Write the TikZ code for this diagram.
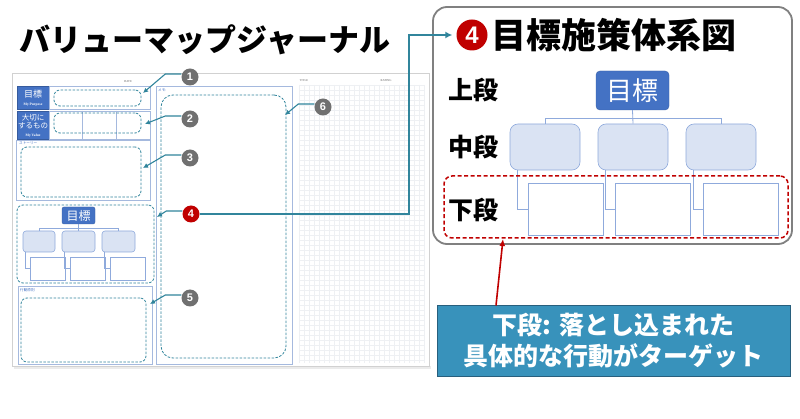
\documentclass[tikz,border=0pt]{standalone}
\usepackage{fontspec}
\setmainfont{Liberation Serif}
\setsansfont{Liberation Sans}
\newfontfamily\jp{Noto Sans CJK JP}
\usetikzlibrary{arrows.meta}
\definecolor{tealc}{RGB}{49,133,156}
\definecolor{boxblue}{RGB}{68,114,196}
\definecolor{midfill}{RGB}{218,227,243}
\definecolor{midline}{RGB}{143,170,220}
\definecolor{pageln}{RGB}{165,185,222}
\definecolor{darkred}{RGB}{192,0,0}
\definecolor{notegray}{RGB}{112,112,112}
\definecolor{infobox}{RGB}{56,146,187}
\definecolor{infoborder}{RGB}{40,95,125}
\definecolor{panelgray}{RGB}{128,128,128}
\definecolor{gridc}{RGB}{238,240,243}
\tikzset{
  sz/.style 2 args={minimum width=#1pt, minimum height=#2pt, inner sep=0pt},
  cell/.style={draw=pageln, line width=0.6pt, fill=white},
  dashbox/.style={draw=tealc, dash pattern=on 2.5pt off 1.5pt, rounded corners=6pt, line width=0.8pt},
  labelbox/.style={fill=boxblue, draw=boxblue!80!black, line width=0.3pt},
  tiny/.style={font=\fontsize{3}{3}\selectfont, text=black!60, inner sep=0pt},
  smalllabel/.style={font=\jp\fontsize{3.6}{3.6}\selectfont, text=boxblue, inner sep=0pt},
  callnum/.style={circle, fill=notegray, text=white, font=\sffamily\bfseries\fontsize{11}{11}\selectfont, minimum size=17pt, inner sep=0pt},
  callarrow/.style={draw=tealc, line width=1.1pt, -{Latex[length=5pt,width=5pt]}},
  goalbox/.style={fill=boxblue, draw=boxblue!85!black, line width=0.4pt, rounded corners=2pt, text=white},
  midbox/.style={fill=midfill, draw=midline, line width=0.6pt, rounded corners=#1},
  lowbox/.style={fill=white, draw=midline, line width=0.6pt},
  treeline/.style={draw=midline, line width=0.8pt},
  stagelabel/.style={font=\jp\bfseries\fontsize{25}{25}\selectfont, inner sep=0pt},
}
\begin{document}
\begin{tikzpicture}[x=1pt,y=-1pt]
\useasboundingbox (0,0) rectangle (800,419);
\fill[white] (0,0) rectangle (800,419);

% title
\node[font=\jp\bfseries\fontsize{31}{31}\selectfont, inner sep=0pt] (title) at (205,40) {バリューマップジャーナル};

% journal page
\fill[black!8] (14,366) rectangle (431,369);
\draw[draw=black!18, fill=white, line width=0.8pt] (12,73) rectangle (429,366);
\node[tiny] (date) at (128,82) {DATE};
\node[tiny] (ttl) at (304,81) {TITLE};
\node[tiny] (rating) at (386,81) {RATING};

% grid
\foreach \x in {299,304,...,424} \draw[gridc, line width=0.35pt] (\x,85) -- (\x,363);
\foreach \y in {85,90,...,363} \draw[gridc, line width=0.35pt] (299,\y) -- (424,\y);

% purpose row
\node[labelbox, sz={32}{23}] (purp) at (33,97.5) {};
\node[text=white, font=\jp\fontsize{9}{9}\selectfont, inner sep=0pt] (purpt) at (33,94) {目標};
\node[text=white, font=\bfseries\fontsize{3.6}{3.6}\selectfont, inner sep=0pt] (purpe) at (33,105) {My Purpose};
\node[cell, sz={101}{23}] (cell1) at (99.5,97.5) {};
\node[dashbox, sz={87}{16}] (d1) at (97.5,98) {};

% value row
\node[labelbox, sz={32}{28}] (val) at (33,125) {};
\node[text=white, font=\jp\fontsize{7.5}{8}\selectfont, align=center, inner sep=0pt] (valt) at (33,122) {大切に\\するもの};
\node[text=white, font=\bfseries\fontsize{3.6}{3.6}\selectfont, inner sep=0pt] (vale) at (33,136) {My Value};
\node[cell, sz={101}{28}] (cell2) at (99.5,125) {};
\draw[draw=pageln, line width=0.8pt] (cell2.north west) ++(34,0) coordinate (v1a) -- ++(0,28);
\draw[draw=pageln, line width=0.8pt] (cell2.north west) ++(68,0) coordinate (v2a) -- ++(0,28);
\node[dashbox, sz={87}{20}] (d2) at (97.5,123) {};

% story
\node[cell, sz={134}{60}] (story) at (83,170) {};
\node[smalllabel, anchor=west] (storyl) at (19,143.5) {ストーリー};
\node[dashbox, sz={120}{50}] (d3) at (81,172) {};

% goal tree (small)
\node[dashbox, sz={137}{78}] (d4) at (85.5,244) {};
\node[goalbox, sz={33}{17}, font=\jp\fontsize{12}{12}\selectfont] (g0) at (78.5,215.5) {目標};
\node[midbox=3pt, sz={32}{21}] (m1) at (39,241.5) {};
\node[midbox=3pt, sz={33}{21}] (m2) at (78.5,241.5) {};
\node[midbox=3pt, sz={33}{21}] (m3) at (118.5,241.5) {};
\node[lowbox, sz={35}{23}] (b1) at (47.5,268.5) {};
\node[lowbox, sz={35}{23}] (b2) at (87.5,268.5) {};
\node[lowbox, sz={35}{23}] (b3) at (127.5,268.5) {};
\draw[treeline, line width=0.6pt] (g0.south) -- (m2.north);
\draw[treeline, line width=0.6pt] (g0.south) ++(0,4) -| (m1.north);
\draw[treeline, line width=0.6pt] (g0.south) ++(0,4) -| (m3.north);
\draw[treeline, line width=0.6pt] ([xshift=2.5pt]m1.south west) |- (b1.west);
\draw[treeline, line width=0.6pt] ([xshift=2.5pt]m2.south west) |- (b2.west);
\draw[treeline, line width=0.6pt] ([xshift=2.5pt]m3.south west) |- (b3.west);

% action principles
\node[cell, sz={134}{78}] (act) at (85,325) {};
\node[smalllabel, anchor=west] (actl) at (20,290) {行動原則};
\node[dashbox, sz={125}{64}] (d5) at (83.5,330) {};

% memo
\node[cell, sz={136}{278}] (memo) at (224,225) {};
\node[smalllabel, anchor=west] (memol) at (158,90) {メモ:};
\node[dashbox, rounded corners=12pt, sz={125}{263}] (d6) at (223.5,226.5) {};

% callouts
\node[callnum] (c1) at (190,77) {1};
\node[callnum] (c2) at (190,119) {2};
\node[callnum] (c3) at (190,158) {3};
\node[callnum, fill=darkred] (c4) at (191,214) {4};
\node[callnum] (c5) at (190,298) {5};
\node[callnum] (c6) at (323,107) {6};
\coordinate (t1) at (143,93);
\coordinate (t2) at (145,124);
\coordinate (t3) at (143,168);
\coordinate (t4) at (157,217);
\coordinate (t5) at (150,304);
\coordinate (t6) at (285,115);
\draw[callarrow] ([yshift=3pt]c1.west) -- ++(-16,0) -- (t1);
\draw[callarrow] ([yshift=3pt]c2.west) -- ++(-16,0) -- (t2);
\draw[callarrow] ([yshift=3pt]c3.west) -- ++(-16,0) -- (t3);
\draw[callarrow] ([yshift=3pt]c4.west) -- ++(-16,0) -- (t4);
\draw[callarrow] ([yshift=3pt]c5.west) -- ++(-16,0) -- (t5);
\draw[callarrow] ([yshift=3pt]c6.west) -- ++(-16,0) -- (t6);

% right panel
\node[draw=panelgray, line width=1.8pt, rounded corners=14pt, fill=white, sz={359}{237}] (panel) at (612.5,125.5) {};
\node[circle, fill=darkred, text=white, font=\sffamily\bfseries\fontsize{24}{24}\selectfont, minimum size=31pt, inner sep=0pt] (r4) at (472,35) {4};
\node[font=\jp\bfseries\fontsize{35}{35}\selectfont, anchor=west, inner sep=0pt] (rtitle) at (491,35) {目標施策体系図};
\node[stagelabel] (s1) at (473,90) {上段};
\node[stagelabel] (s2) at (473,147) {中段};
\node[stagelabel] (s3) at (473,210) {下段};

\node[goalbox, rounded corners=4pt, sz={73}{39}, font=\jp\fontsize{26}{26}\selectfont] (G) at (632.5,90.5) {目標};
\node[midbox=8pt, sz={70}{46}] (M1) at (545,147) {};
\node[midbox=8pt, sz={70}{46}] (M2) at (633,147) {};
\node[midbox=8pt, sz={70}{46}] (M3) at (721,147) {};
\node[lowbox, sz={75}{52}] (B1) at (565.5,209) {};
\node[lowbox, sz={75}{52}] (B2) at (652.5,209) {};
\node[lowbox, sz={75}{52}] (B3) at (740.5,209) {};
\draw[treeline] (G.south) -- (M2.north);
\draw[treeline] (G.south) ++(0,8) -| (M1.north);
\draw[treeline] (G.south) ++(0,8) -| (M3.north);
\draw[treeline] ([xshift=8pt]M1.south west) |- (B1.west);
\draw[treeline] ([xshift=8pt]M2.south west) |- (B2.west);
\draw[treeline] ([xshift=8pt]M3.south west) |- (B3.west);
\node[draw=darkred, line width=1.5pt, dash pattern=on 4pt off 2.5pt, rounded corners=8pt, sz={344}{62}] (RD) at (616,207) {};

% big connector from 4
\coordinate (k4) at (409,214);
\draw[draw=tealc, line width=2.8pt, -{Latex[length=7pt,width=7pt]}, shorten >=4pt] (c4.east) -- (k4) |- (r4.west);

% info box
\node[fill=infobox, draw=infoborder, line width=1pt, sz={353}{70}, text=white, font=\jp\bfseries\fontsize{25}{31}\selectfont, align=center] (INFO) at (613.5,341) {下段: 落とし込まれた\\具体的な行動がターゲット};
\coordinate (rtip) at (503,239);
\draw[draw=darkred, line width=1.6pt, -{Latex[length=7pt,width=6pt]}] ([xshift=-117.5pt]INFO.north) -- (rtip);
\end{tikzpicture}
\end{document}
